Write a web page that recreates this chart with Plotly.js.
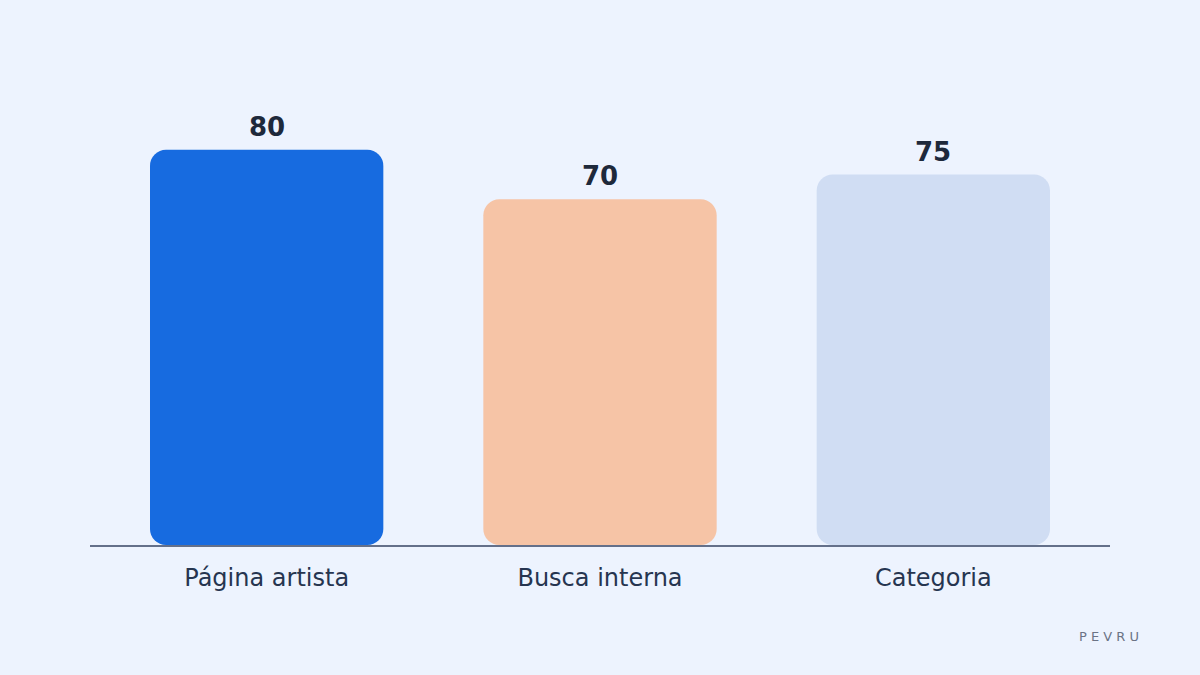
<!DOCTYPE html>
<html>
<head>
<meta charset="utf-8">
<script src="https://cdn.plot.ly/plotly-3.0.1.min.js"></script>
<style>
  html, body { margin: 0; padding: 0; background: #edf3fe; }
  #chart { width: 1200px; height: 675px; }
</style>
</head>
<body>
<div id="chart"></div>
<script>
const categories = ["Página artista", "Busca interna", "Categoria"];
const values = [80, 70, 75];
const barColors = ["#176be0", "#f6c4a6", "#d0ddf3"];

const FONT = "DejaVu Sans, Verdana, sans-serif";

// giving an explicit base makes plotly round both ends of each bar
const bars = {
  type: "bar",
  x: categories,
  y: values,
  base: values.map(() => 0),
  marker: { color: barColors, cornerradius: 16 },
  hoverinfo: "skip",
};

const valueLabels = categories.map((cat, i) => ({
  x: cat,
  y: values[i],
  text: `<b>${values[i]}</b>`,
  showarrow: false,
  yanchor: "bottom",
  yshift: 6,
  font: { family: FONT, size: 26, color: "#1e293b" },
}));

const layout = {
  width: 1200,
  height: 675,
  paper_bgcolor: "#edf3fe",
  plot_bgcolor: "#edf3fe",
  margin: { l: 90, r: 90, t: 51, b: 130 },
  bargap: 0.3,
  showlegend: false,
  font: { family: FONT, color: "#263550" },
  xaxis: {
    range: [-0.53, 2.53],
    showline: true,
    linecolor: "#64708a",
    linewidth: 2,
    showgrid: false,
    zeroline: false,
    ticks: "",
    ticklabelstandoff: 10,
    tickfont: { family: FONT, size: 24, color: "#263550" },
  },
  yaxis: {
    range: [0, 100],
    visible: false,
    showgrid: false,
    zeroline: false,
  },
  annotations: [
    ...valueLabels,
    {
      xref: "paper",
      yref: "paper",
      x: 1.03,
      y: -0.185,
      xanchor: "right",
      yanchor: "middle",
      text: "P E V R U",
      showarrow: false,
      font: { family: FONT, size: 13, color: "#6b7386" },
    },
  ],
};

Plotly.newPlot("chart", [bars], layout, { displayModeBar: false, staticPlot: true });
</script>
</body>
</html>
